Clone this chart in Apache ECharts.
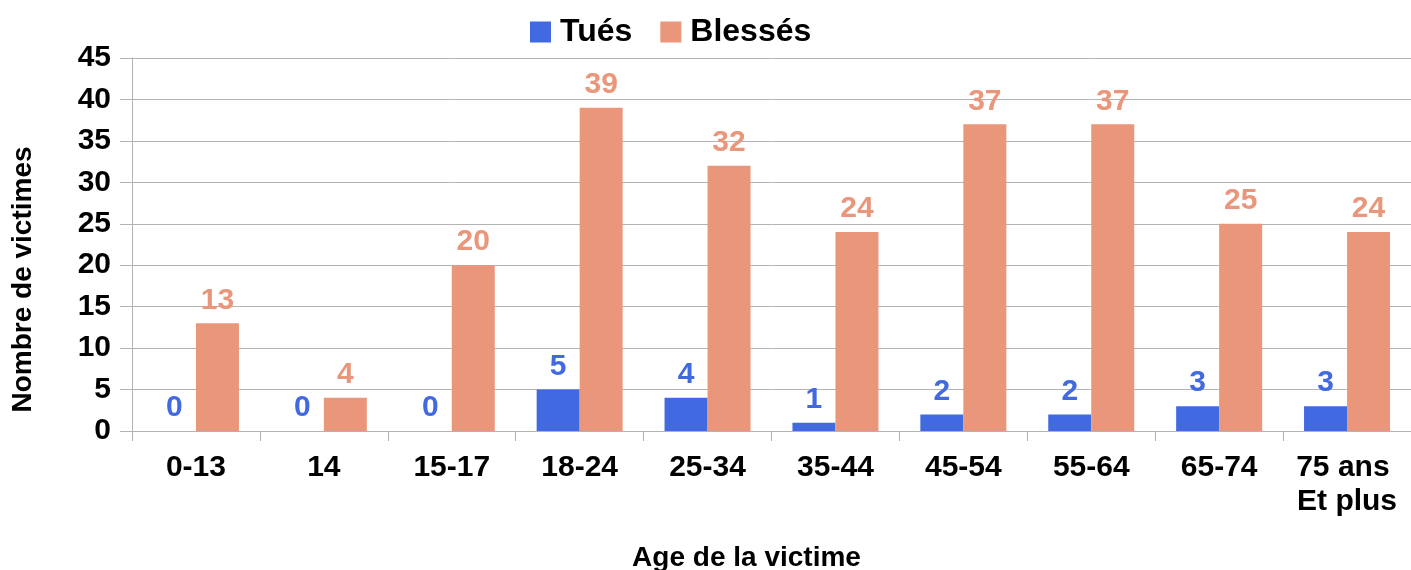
<!DOCTYPE html>
<html>
<head>
<meta charset="utf-8">
<script src="https://cdn.jsdelivr.net/npm/echarts@6/dist/echarts.min.js"></script>
<style>
html,body{margin:0;padding:0;background:#fff;}
#chart{width:1411px;height:570px;}
</style>
</head>
<body>
<div id="chart"></div>
<script>
const categories = ['0-13', '14', '15-17', '18-24', '25-34', '35-44', '45-54', '55-64', '65-74', '75 ans \nEt plus'];
const tues = [0, 0, 0, 5, 4, 1, 2, 2, 3, 3];
const blesses = [13, 4, 20, 39, 32, 24, 37, 37, 25, 24];
const yTicks = { min: 0, max: 45, interval: 5 };

const FONT = '"Liberation Sans", Arial, sans-serif';
const BLUE = '#4169E1';
const SALMON = '#E9967A';
const GRID = '#b3b3b3';

const chart = echarts.init(document.getElementById('chart'), null, { renderer: 'canvas' });
chart.setOption({
  animation: false,
  backgroundColor: '#fff',
  textStyle: { fontFamily: FONT },
  legend: {
    left: 525, top: 11,
    itemWidth: 21, itemHeight: 21, itemGap: 28,
    icon: 'rect',
    textStyle: { fontSize: 32, fontWeight: 'bold', color: '#000', fontFamily: FONT, padding: [0, 0, 0, 4] },
    data: ['Tués', 'Blessés']
  },
  grid: { left: 132, right: 0, top: 58, bottom: 139, containLabel: false, outerBoundsMode: 'none' },
  xAxis: {
    type: 'category',
    data: categories,
    name: 'Age de la victime',
    nameLocation: 'middle',
    nameGap: 113,
    nameTextStyle: { fontSize: 28, fontWeight: 'bold', color: '#000', fontFamily: FONT, padding: [0, 50, 0, 0] },
    axisLine: { lineStyle: { color: GRID, width: 1 } },
    axisTick: { show: true, length: 10, lineStyle: { color: GRID } },
    axisLabel: { fontSize: 30, fontWeight: 'bold', color: '#000', margin: 20, lineHeight: 34, interval: 0, fontFamily: FONT }
  },
  yAxis: {
    type: 'value',
    min: yTicks.min, max: yTicks.max, interval: yTicks.interval,
    name: 'Nombre de victimes',
    nameLocation: 'middle',
    nameGap: 95,
    nameRotate: 90,
    nameTextStyle: { fontSize: 28, fontWeight: 'bold', color: '#000', fontFamily: FONT, padding: [0, 70, 0, 0] },
    axisLine: { show: true, lineStyle: { color: GRID, width: 1 } },
    axisTick: { show: true, length: 12, lineStyle: { color: GRID } },
    splitLine: { show: true, lineStyle: { color: GRID, width: 1 } },
    axisLabel: { fontSize: 30, fontWeight: 'bold', color: '#000', margin: 21, fontFamily: FONT }
  },
  series: [
    {
      name: 'Tués', type: 'bar', data: tues,
      barWidth: 43, barGap: '0%',
      itemStyle: { color: BLUE },
      label: { show: true, position: 'top', distance: 8, fontSize: 30, fontWeight: 'bold', color: BLUE, fontFamily: FONT }
    },
    {
      name: 'Blessés', type: 'bar', data: blesses,
      barWidth: 43, barGap: '0%',
      itemStyle: { color: SALMON },
      label: { show: true, position: 'top', distance: 8, fontSize: 30, fontWeight: 'bold', color: SALMON, fontFamily: FONT }
    }
  ]
});
</script>
</body>
</html>
